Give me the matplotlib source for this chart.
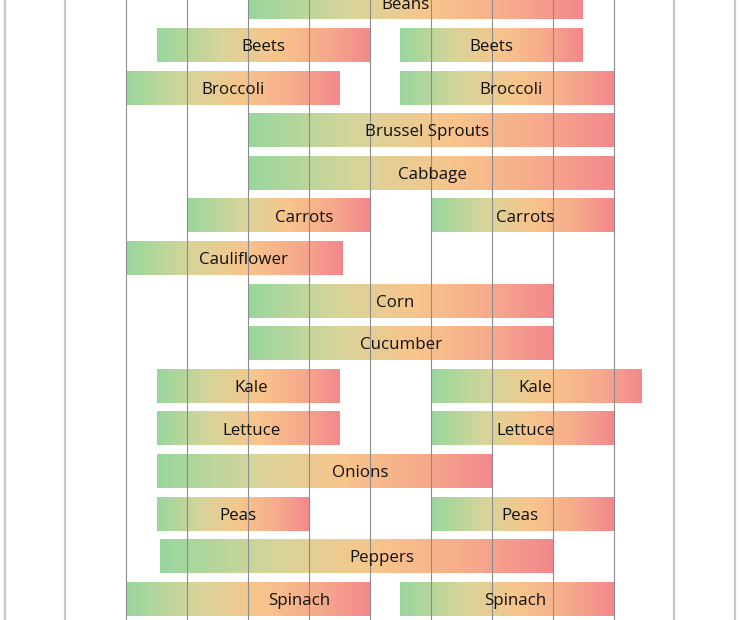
import numpy as np
import matplotlib
matplotlib.use("Agg")
import matplotlib.pyplot as plt
from matplotlib.colors import LinearSegmentedColormap

# planting windows, in months from the first gridline
veggies = ["Beans", "Beets", "Broccoli", "Brussel Sprouts", "Cabbage", "Carrots",
           "Cauliflower", "Corn", "Cucumber", "Kale", "Lettuce", "Onions",
           "Peas", "Peppers", "Spinach"]
start1 = [4.0, 2.5, 2.0, 4.0, 4.0, 3.0, 2.0, 4.0, 4.0, 2.5, 2.5, 2.5, 2.5, 2.55, 2.0]
end1 = [9.5, 6.0, 5.5, 10.0, 10.0, 6.0, 5.55, 9.0, 9.0, 5.5, 5.5, 8.0, 5.0, 9.0, 6.0]
start2 = [None, 6.5, 6.5, None, None, 7.0, None, None, None, 7.0, 7.0, None, 7.0, None, 6.5]
end2 = [None, 9.5, 10.0, None, None, 10.0, None, None, None, 10.45, 10.0, None, 10.0, None, 10.0]
# where the labels sit (not always the middle of the bar)
label_x1 = [6.58, 4.25, 3.76, 6.94, 7.02, 4.92, 3.92, 6.41, 6.51, 4.05, 4.06, 5.84, 3.83, 6.19, 4.84]
label_x2 = [None, 7.99, 8.32, None, None, 8.55, None, None, None, 8.71, 8.56, None, 8.47, None, 8.38]

grid_months = np.arange(0, 13)

cmap = LinearSegmentedColormap.from_list("veg", [
    (0.0, "#98d79d"), (0.3, "#d8d49a"), (0.55, "#f8c58b"),
    (0.8, "#f6a98c"), (1.0, "#f3888d")])
grad = np.linspace(0, 1, 256).reshape(1, -1)

plt.rcParams['font.family'] = ['Open Sans', 'DejaVu Sans']

fig = plt.figure(figsize=(7.4, 6.2), dpi=100)
ax = fig.add_axes([0, 0, 1, 1])
ax.axis("off")

bar_h = 0.775


def draw_bar(y, x0, x1, lx, name):
    ax.imshow(grad, cmap=cmap, aspect="auto", interpolation="bilinear",
              extent=(x0, x1, y + bar_h / 2, y - bar_h / 2), zorder=1)
    ax.text(lx, y + 0.04, name, ha="center", va="center",
            fontsize=12.2, color="#111111", zorder=4)


for i, name in enumerate(veggies):
    draw_bar(i, start1[i], end1[i], label_x1[i], name)
    if start2[i] is not None:
        draw_bar(i, start2[i], end2[i], label_x2[i], name)

# gridlines drawn over the bars
for m in grid_months:
    if 2 <= m <= 10:
        ax.axvline(m, color="#8c8c8c", linewidth=0.8, zorder=3)
    else:
        ax.axvline(m, color="#c8c8c8", linewidth=1.6, zorder=3)

ax.set_xlim(-0.074, 12.077)
ax.set_ylim(14.485, -0.07)

plt.savefig("out.png", dpi=100)
